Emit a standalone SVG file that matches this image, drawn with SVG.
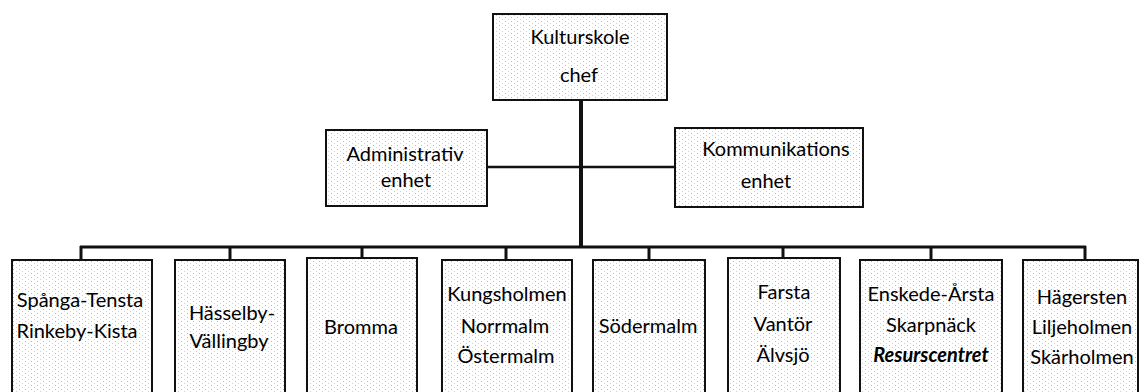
<svg xmlns="http://www.w3.org/2000/svg" width="1140" height="392" viewBox="0 0 1140 392">
<defs>
<pattern id="dots" width="6" height="4" patternUnits="userSpaceOnUse">
<rect width="6" height="4" fill="#ffffff"/>
<rect x="1" y="1" width="1" height="1" fill="#b8b8b8"/>
<rect x="4" y="3" width="1" height="1" fill="#d0d0d0"/>
</pattern>
<style>
.box{fill:url(#dots);stroke:#111;stroke-width:2}
.t{font-family:Lato,"Liberation Sans",sans-serif;font-size:20px;fill:#000;text-anchor:middle}
.bi{font-weight:bold;font-style:italic}
.c{stroke:#111;fill:none}
</style>
</defs>
<rect width="1140" height="392" fill="#ffffff"/>
<g id="connectors">
<line class="c" x1="581" y1="100" x2="581" y2="248" stroke-width="4"/>
<line class="c" x1="487" y1="167" x2="675" y2="167" stroke-width="2.5"/>
<line class="c" x1="80" y1="247" x2="1086" y2="247" stroke-width="3"/>
<line class="c" x1="81" y1="246" x2="81" y2="260" stroke-width="3"/>
<line class="c" x1="230" y1="246" x2="230" y2="260" stroke-width="3"/>
<line class="c" x1="362" y1="246" x2="362" y2="258" stroke-width="3"/>
<line class="c" x1="506" y1="246" x2="506" y2="260" stroke-width="3"/>
<line class="c" x1="649" y1="246" x2="649" y2="260" stroke-width="3"/>
<line class="c" x1="783" y1="246" x2="783" y2="258" stroke-width="3"/>
<line class="c" x1="931" y1="246" x2="931" y2="260" stroke-width="3"/>
<line class="c" x1="1085" y1="246" x2="1085" y2="260" stroke-width="3"/>
</g>
<g id="n-chef">
<rect class="box" x="493" y="14" width="174" height="86"/>
<text class="t" x="580" y="44">Kulturskole</text>
<text class="t" x="579" y="82">chef</text>
</g>
<g id="n-admin">
<rect class="box" x="326" y="130" width="161" height="76"/>
<text class="t" x="405" y="161">Administrativ</text>
<text class="t" x="406" y="187">enhet</text>
</g>
<g id="n-komm">
<rect class="box" x="675" y="128" width="188" height="79"/>
<text class="t" x="776" y="156">Kommunikations</text>
<text class="t" x="766" y="188">enhet</text>
</g>
<g id="n-spanga">
<rect class="box" x="12" y="260" width="140" height="140"/>
<text class="t" x="80" y="307">Spånga-Tensta</text>
<text class="t" x="77" y="338">Rinkeby-Kista</text>
</g>
<g id="n-hasselby">
<rect class="box" x="175" y="260" width="110" height="140"/>
<text class="t" x="232" y="320">Hässelby-</text>
<text class="t" x="229" y="348">Vällingby</text>
</g>
<g id="n-bromma">
<rect class="box" x="307" y="258" width="110" height="142"/>
<text class="t" x="361" y="334">Bromma</text>
</g>
<g id="n-kungsholmen">
<rect class="box" x="442" y="260" width="130" height="140"/>
<text class="t" x="507" y="301">Kungsholmen</text>
<text class="t" x="505" y="333">Norrmalm</text>
<text class="t" x="506" y="363">Östermalm</text>
</g>
<g id="n-sodermalm">
<rect class="box" x="593" y="260" width="112" height="140"/>
<text class="t" x="648" y="333">Södermalm</text>
</g>
<g id="n-farsta">
<rect class="box" x="728" y="258" width="112" height="142"/>
<text class="t" x="784" y="299">Farsta</text>
<text class="t" x="783" y="331">Vantör</text>
<text class="t" x="783" y="362">Älvsjö</text>
</g>
<g id="n-enskede">
<rect class="box" x="860" y="260" width="142" height="140"/>
<text class="t" x="931" y="301">Enskede-Årsta</text>
<text class="t" x="931" y="332">Skarpnäck</text>
<text class="t bi" x="931" y="362">Resurscentret</text>
</g>
<g id="n-hagersten">
<rect class="box" x="1023" y="260" width="115" height="140"/>
<text class="t" x="1082" y="304">Hägersten</text>
<text class="t" x="1082" y="334">Liljeholmen</text>
<text class="t" x="1082" y="364">Skärholmen</text>
</g>
</svg>
